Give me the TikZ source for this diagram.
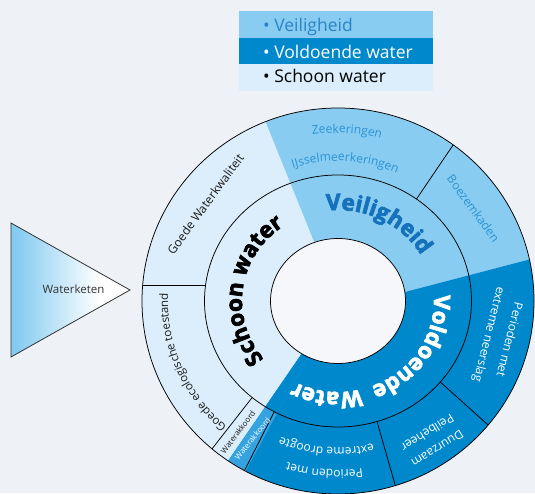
\documentclass[tikz,border=0pt]{standalone}
\usepackage{fontspec}
\setmainfont{Open Sans}
\newfontfamily\heavy[BoldFeatures={FakeBold=3}]{Open Sans}
\usetikzlibrary{decorations.text}
\definecolor{bg}{HTML}{EEF1F6}
\definecolor{innerc}{HTML}{F5F7FA}
\definecolor{schoon}{HTML}{DCEEFB}
\definecolor{veil}{HTML}{88CCF2}
\definecolor{vold}{HTML}{0088CC}
\definecolor{akk}{HTML}{35A3DF}
\definecolor{veiltext}{HTML}{1571B9}
\definecolor{veilsub}{HTML}{2B93D4}
\definecolor{legveil}{HTML}{2A83C6}
\definecolor{tri}{HTML}{84CBF1}
\definecolor{dark}{HTML}{1A1A1A}
\pgfdeclarehorizontalshading{trishade}{100bp}{color(0bp)=(tri); color(27bp)=(tri); color(62bp)=(white); color(100bp)=(white)}
\newcommand\bigfont{\heavy\bfseries\fontsize{22.5}{22.5}\selectfont}
\newcommand\subfont{\fontsize{12}{12}\selectfont}
\newcommand\arclabel[5]{%
  \pgfmathsetmacro\arcS{#1+#2}%
  \pgfmathsetmacro\arcE{#1-#2}%
  \path[decorate, decoration={text along path, text align=center, text={#5}}]
    ([shift={(C)}]\arcS:#3 and #4) arc[start angle=\arcS, end angle=\arcE, x radius=#3, y radius=#4];}
\begin{document}
\begin{tikzpicture}[x=1pt,y=1pt,
  sep/.style={draw=black, line width=0.75pt},
  legrow/.style={minimum width=194pt, minimum height=26.5pt, anchor=south west, inner sep=0pt, outer sep=0pt},
  legtext/.style={anchor=base west, inner sep=0pt, font=\fontsize{17.5}{17.5}\selectfont},
  outerlbl/.style={inner sep=0pt, font=\fontsize{12}{19}\selectfont, align=center}]
\useasboundingbox (0,0) rectangle (535,493);
\clip (0,0) rectangle (535,493);
\fill[bg] (0,0) rectangle (535,493);
\coordinate (C) at (338,192);
\coordinate (A) at (338,183.5);

% --- ring fills
\fill[schoon] (C) ellipse [x radius=196pt, y radius=193pt];
\begin{scope}
  \clip (A) -- (800,304.3) -- (800,1100) -- (1,1026.5) -- (C) -- cycle;
  \fill[veil] (C) ellipse [x radius=196pt, y radius=193pt];
\end{scope}
\begin{scope}
  \clip (A) -- (800,304.3) -- (800,-700) -- (-171.8,-549.7) -- (C) -- cycle;
  \fill[vold] (C) ellipse [x radius=196pt, y radius=193pt];
\end{scope}
\begin{scope}
  \clip (C) -- (-171.8,-549.7) -- (-91.5,-598.9) -- cycle;
  \fill[akk] (C) ellipse [x radius=196pt, y radius=193pt];
  \fill[vold] (C) ellipse [x radius=133.5pt, y radius=126pt];
\end{scope}
\fill[innerc] (C) ellipse [x radius=67.5pt, y radius=62.5pt];

% --- outlines and separators
\foreach \a in {54,230,241.5,287,320}
  \draw[sep] ([shift={(C)}]\a:133.5pt and 126pt) -- ([shift={(C)}]\a:196pt and 193pt);
\coordinate (H1) at (142.7,208);
\coordinate (H2) at (205.6,208);
\draw[sep] (H1) -- (H2);
\draw[sep] (C) ellipse [x radius=196pt, y radius=193pt];
\draw[sep] (C) ellipse [x radius=133.5pt, y radius=126pt];
\draw[sep] (C) ellipse [x radius=67.5pt, y radius=62.5pt];

% --- middle ring labels
\arclabel{63}{60}{96pt}{91pt}{|\bigfont\color{veiltext}|Veiligheid}
\arclabel{172}{70}{96pt}{91pt}{|\bigfont\color{black}|Schoon water}
\arclabel{-32.5}{60}{96pt}{91pt}{|\bigfont\color{white}|Voldoende}
\arclabel{263.3}{60}{96pt}{91pt}{|\bigfont\color{white}|Water}

% --- outer ring labels
\arclabel{87}{50}{172pt}{168pt}{|\subfont\color{veilsub}|Zeekeringen}
\arclabel{87}{50}{143.5pt}{140pt}{|\subfont\color{veilsub}|IJsselmeerkeringen}
\arclabel{203}{50}{170pt}{166pt}{|\fontsize{11.5}{11.5}\selectfont\color{dark}|Goede ecologische toestand}
\arclabel{265.5}{50}{150pt}{147pt}{|\subfont\color{white}|extreme droogte}
\arclabel{265.5}{50}{173pt}{169pt}{|\subfont\color{white}|Perioden met}
\node[outerlbl, text=dark, rotate=53.8] (gww) at (205.5,289) {Goede Waterkwaliteit};
\node[outerlbl, text=veilsub, rotate=-54] (boez) at (473.5,284.5) {Boezemkaden};
\node[outerlbl, text=white, rotate=212] (duur) at (432.5,52.2) {Duurzaam\\Peilbeheer};
\node[outerlbl, text=white, rotate=-104, font=\fontsize{12}{21}\selectfont] (neer) at (498.5,156) {Perioden met\\extreme neerslag};
\node[inner sep=0pt, font=\fontsize{7.8}{8}\selectfont, text=dark, rotate=53] (wa1) at (238,61) {Waterakkoord};
\node[inner sep=0pt, font=\fontsize{7.8}{8}\selectfont, text=white, rotate=51] (wa2) at (252.5,54.5) {Waterakkoord};

% --- triangle
\coordinate (T1) at (11,270);
\coordinate (T2) at (130,203);
\coordinate (T3) at (11,136);
\shade[shading=trishade] (T1) -- (T2) -- (T3) -- cycle;
\draw[line width=0.8pt, draw=black!80] (T1) -- (T2) -- (T3) -- cycle;
\node[anchor=base, inner sep=0pt, text=black!80, font=\fontsize{11.5}{12}\selectfont] (wk) at (73.5,199.7) {Waterketen};

% --- legend
\node[legrow, fill=veil] (leg1) at (239,455) {};
\node[legrow, fill=vold] (leg2) at (239,428.5) {};
\node[legrow, fill=schoon] (leg3) at (239,402) {};
\node[legtext, text=legveil] (lt1) at (263,461.3) {• Veiligheid};
\node[legtext, text=white] (lt2) at (263,434.7) {• Voldoende water};
\node[legtext, text=black] (lt3) at (263,410.3) {• Schoon water};
\end{tikzpicture}
\end{document}
